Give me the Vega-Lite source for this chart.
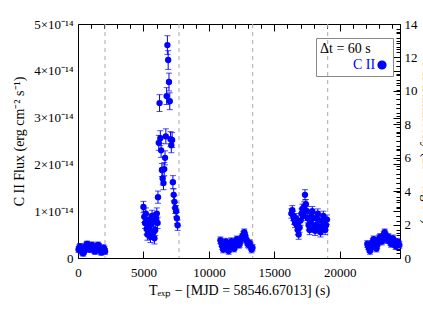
{
  "$schema": "https://vega.github.io/schema/vega-lite/v6.json",
  "width": 322,
  "height": 234,
  "autosize": {"type": "none"},
  "padding": {"left": 78, "top": 24, "right": 23, "bottom": 54},
  "config": {
    "view": {"stroke": null},
    "font": "Liberation Serif",
    "axis": {"labelFont": "Liberation Serif", "titleFont": "Liberation Serif", "labelColor": "black", "titleColor": "black", "domainColor": "black", "tickColor": "black", "grid": false, "labelFontSize": 13, "titleFontSize": 14, "titleFontWeight": "normal", "labelFlush": false, "labelOverlap": false}
  },
  "data": {"values": [
    {"t":40,"f":0.18,"e":0.06},{"t":100,"f":0.22,"e":0.06},{"t":160,"f":0.25,"e":0.06},{"t":220,"f":0.2,"e":0.06},{"t":280,"f":0.15,"e":0.06},{"t":340,"f":0.12,"e":0.06},{"t":400,"f":0.1,"e":0.06},{"t":460,"f":0.14,"e":0.06},{"t":520,"f":0.2,"e":0.06},{"t":580,"f":0.24,"e":0.06},{"t":640,"f":0.28,"e":0.06},{"t":700,"f":0.3,"e":0.06},{"t":760,"f":0.26,"e":0.06},{"t":820,"f":0.22,"e":0.06},{"t":880,"f":0.18,"e":0.06},{"t":940,"f":0.2,"e":0.06},{"t":1000,"f":0.25,"e":0.06},{"t":1060,"f":0.28,"e":0.06},{"t":1120,"f":0.24,"e":0.06},{"t":1180,"f":0.2,"e":0.06},{"t":1240,"f":0.16,"e":0.06},{"t":1300,"f":0.14,"e":0.06},{"t":1360,"f":0.18,"e":0.06},{"t":1420,"f":0.22,"e":0.06},{"t":1480,"f":0.26,"e":0.06},{"t":1540,"f":0.28,"e":0.06},{"t":1600,"f":0.25,"e":0.06},{"t":1660,"f":0.2,"e":0.06},{"t":1720,"f":0.15,"e":0.06},{"t":1780,"f":0.12,"e":0.06},{"t":1840,"f":0.16,"e":0.06},{"t":1900,"f":0.2,"e":0.06},{"t":1960,"f":0.22,"e":0.06},{"t":2020,"f":0.18,"e":0.06},{"t":2070,"f":0.14,"e":0.06},
    {"t":5000,"f":1.09,"e":0.12},{"t":5060,"f":0.88,"e":0.12},{"t":5120,"f":0.75,"e":0.12},{"t":5180,"f":0.95,"e":0.12},{"t":5240,"f":0.62,"e":0.12},{"t":5300,"f":0.5,"e":0.12},{"t":5360,"f":0.7,"e":0.12},{"t":5420,"f":0.82,"e":0.12},{"t":5480,"f":0.6,"e":0.12},{"t":5540,"f":0.45,"e":0.12},{"t":5600,"f":0.72,"e":0.12},{"t":5660,"f":0.9,"e":0.12},{"t":5720,"f":0.78,"e":0.12},{"t":5780,"f":0.55,"e":0.12},{"t":5840,"f":0.42,"e":0.12},{"t":5900,"f":0.6,"e":0.12},{"t":5960,"f":0.85,"e":0.12},{"t":6020,"f":0.95,"e":0.12},{"t":6080,"f":0.75,"e":0.12},
    {"t":6110,"f":1.3,"e":0.13},{"t":6170,"f":2.46,"e":0.16},{"t":6230,"f":3.31,"e":0.18},{"t":6290,"f":2.56,"e":0.16},{"t":6350,"f":2.3,"e":0.15},{"t":6410,"f":1.88,"e":0.14},{"t":6470,"f":1.7,"e":0.14},{"t":6530,"f":1.6,"e":0.14},{"t":6590,"f":1.9,"e":0.14},{"t":6650,"f":2.14,"e":0.15},{"t":6710,"f":2.6,"e":0.16},{"t":6770,"f":3.46,"e":0.18},{"t":6830,"f":4.55,"e":0.2},{"t":6890,"f":4.23,"e":0.2},{"t":6950,"f":3.76,"e":0.19},{"t":7010,"f":3.35,"e":0.18},{"t":7070,"f":2.54,"e":0.16},{"t":7130,"f":2.41,"e":0.16},{"t":7190,"f":2.52,"e":0.16},{"t":7250,"f":1.62,"e":0.14},{"t":7310,"f":1.35,"e":0.13},{"t":7370,"f":1.2,"e":0.13},{"t":7430,"f":1.07,"e":0.12},{"t":7490,"f":1.0,"e":0.12},{"t":7550,"f":0.85,"e":0.12},{"t":7610,"f":0.7,"e":0.11},
    {"t":10880,"f":0.38,"e":0.07},{"t":10950,"f":0.32,"e":0.07},{"t":11020,"f":0.25,"e":0.07},{"t":11090,"f":0.18,"e":0.07},{"t":11160,"f":0.22,"e":0.07},{"t":11230,"f":0.3,"e":0.07},{"t":11300,"f":0.35,"e":0.07},{"t":11370,"f":0.28,"e":0.07},{"t":11440,"f":0.2,"e":0.07},{"t":11510,"f":0.15,"e":0.07},{"t":11580,"f":0.22,"e":0.07},{"t":11650,"f":0.3,"e":0.07},{"t":11720,"f":0.36,"e":0.07},{"t":11790,"f":0.33,"e":0.07},{"t":11860,"f":0.25,"e":0.07},{"t":11930,"f":0.2,"e":0.07},{"t":12000,"f":0.26,"e":0.07},{"t":12070,"f":0.34,"e":0.07},{"t":12140,"f":0.4,"e":0.07},{"t":12210,"f":0.35,"e":0.07},{"t":12280,"f":0.28,"e":0.07},{"t":12350,"f":0.3,"e":0.07},{"t":12420,"f":0.38,"e":0.07},{"t":12490,"f":0.42,"e":0.07},{"t":12560,"f":0.45,"e":0.07},{"t":12630,"f":0.5,"e":0.07},{"t":12700,"f":0.55,"e":0.07},{"t":12770,"f":0.48,"e":0.07},{"t":12840,"f":0.4,"e":0.07},{"t":12910,"f":0.35,"e":0.07},{"t":12980,"f":0.3,"e":0.07},{"t":13050,"f":0.28,"e":0.07},{"t":13120,"f":0.32,"e":0.07},{"t":13190,"f":0.25,"e":0.07},{"t":13260,"f":0.18,"e":0.07},{"t":13330,"f":0.22,"e":0.07},
    {"t":16300,"f":0.95,"e":0.1},{"t":16370,"f":1.02,"e":0.1},{"t":16440,"f":0.9,"e":0.1},{"t":16510,"f":0.82,"e":0.1},{"t":16580,"f":0.75,"e":0.1},{"t":16650,"f":0.85,"e":0.1},{"t":16720,"f":0.7,"e":0.1},{"t":16790,"f":0.6,"e":0.1},{"t":16860,"f":0.5,"e":0.1},{"t":16930,"f":0.65,"e":0.1},{"t":17000,"f":0.8,"e":0.1},{"t":17070,"f":0.95,"e":0.1},{"t":17140,"f":1.05,"e":0.1},{"t":17210,"f":0.9,"e":0.1},{"t":17280,"f":1.1,"e":0.1},{"t":17340,"f":1.35,"e":0.11},{"t":17410,"f":1.15,"e":0.1},{"t":17480,"f":1.0,"e":0.1},{"t":17550,"f":0.85,"e":0.1},{"t":17620,"f":0.7,"e":0.1},{"t":17690,"f":0.6,"e":0.1},{"t":17760,"f":0.75,"e":0.1},{"t":17830,"f":0.9,"e":0.1},{"t":17900,"f":1.0,"e":0.1},{"t":17970,"f":0.85,"e":0.1},{"t":18040,"f":0.65,"e":0.1},{"t":18110,"f":0.58,"e":0.1},{"t":18180,"f":0.7,"e":0.1},{"t":18250,"f":0.85,"e":0.1},{"t":18320,"f":0.95,"e":0.1},{"t":18390,"f":0.8,"e":0.1},{"t":18460,"f":0.62,"e":0.1},{"t":18530,"f":0.55,"e":0.1},{"t":18600,"f":0.68,"e":0.1},{"t":18670,"f":0.8,"e":0.1},{"t":18740,"f":0.9,"e":0.1},{"t":18810,"f":0.75,"e":0.1},{"t":18880,"f":0.6,"e":0.1},{"t":18950,"f":0.7,"e":0.1},{"t":19020,"f":0.82,"e":0.1},
    {"t":22100,"f":0.3,"e":0.07},{"t":22170,"f":0.25,"e":0.07},{"t":22240,"f":0.2,"e":0.07},{"t":22310,"f":0.15,"e":0.07},{"t":22380,"f":0.22,"e":0.07},{"t":22450,"f":0.3,"e":0.07},{"t":22520,"f":0.35,"e":0.07},{"t":22590,"f":0.4,"e":0.07},{"t":22660,"f":0.32,"e":0.07},{"t":22730,"f":0.25,"e":0.07},{"t":22800,"f":0.2,"e":0.07},{"t":22870,"f":0.28,"e":0.07},{"t":22940,"f":0.35,"e":0.07},{"t":23010,"f":0.42,"e":0.07},{"t":23080,"f":0.45,"e":0.07},{"t":23150,"f":0.4,"e":0.07},{"t":23220,"f":0.35,"e":0.07},{"t":23290,"f":0.42,"e":0.07},{"t":23360,"f":0.5,"e":0.07},{"t":23430,"f":0.55,"e":0.07},{"t":23500,"f":0.48,"e":0.07},{"t":23570,"f":0.42,"e":0.07},{"t":23640,"f":0.38,"e":0.07},{"t":23710,"f":0.45,"e":0.07},{"t":23780,"f":0.4,"e":0.07},{"t":23850,"f":0.35,"e":0.07},{"t":23920,"f":0.3,"e":0.07},{"t":23990,"f":0.38,"e":0.07},{"t":24060,"f":0.42,"e":0.07},{"t":24130,"f":0.35,"e":0.07},{"t":24200,"f":0.3,"e":0.07},{"t":24270,"f":0.25,"e":0.07},{"t":24340,"f":0.32,"e":0.07},{"t":24410,"f":0.35,"e":0.07},{"t":24480,"f":0.3,"e":0.07},{"t":24550,"f":0.28,"e":0.07}
  ]},
  "layer": [
    {
      "data": {"values": [{"x": 2063}, {"x": 7716}, {"x": 13347}, {"x": 19076}]},
      "mark": {"type": "rule", "color": "#aaaaaa", "strokeDash": [4, 4], "strokeWidth": 1},
      "encoding": {
        "x": {"field": "x", "type": "quantitative", "scale": {"domain": [0, 24600], "nice": false, "zero": false},
              "axis": {"orient": "top", "values": [0, 5000, 10000, 15000, 20000], "tickSize": -7, "labels": false, "domain": true, "title": null}}
      }
    },
    {
      "mark": {"type": "errorbar", "ticks": {"size": 6}, "color": "#0000ff", "thickness": 1},
      "encoding": {
        "x": {"field": "t", "type": "quantitative", "scale": {"domain": [0, 24600], "nice": false, "zero": false}, "axis": null},
        "y": {"field": "f", "type": "quantitative", "scale": {"domain": [0, 5], "nice": false}, "axis": null},
        "yError": {"field": "e"}
      }
    },
    {
      "mark": {"type": "point", "filled": true, "opacity": 1, "size": 40, "shape": "circle"},
      "encoding": {
        "x": {"field": "t", "type": "quantitative", "scale": {"domain": [0, 24600], "nice": false, "zero": false},
              "axis": {"values": [0, 5000, 10000, 15000, 20000], "format": "d", "ticks": false, "labelPadding": 8, "title": "Tₑₓₚ − [MJD = 58546.67013] (s)", "titlePadding": 4, "domain": true}},
        "y": {"field": "f", "type": "quantitative", "scale": {"domain": [0, 5], "nice": false},
              "axis": {"values": [0, 1, 2, 3, 4, 5], "ticks": false, "labelPadding": 5, "labelExpr": "datum.value == 0 ? '0' : datum.value + '×10⁻¹⁴'", "title": "C II Flux (erg cm⁻² s⁻¹)", "titlePadding": 7, "domain": true}},
        "color": {"datum": "C II", "type": "nominal", "scale": {"range": ["#0000ff"]},
                  "legend": {"title": "Δt = 60 s", "orient": "none", "legendX": 238, "legendY": 14, "strokeColor": "#888888", "padding": 4,
                             "titleFont": "Liberation Serif", "titleFontSize": 14, "titleFontWeight": "normal", "titleColor": "black", "titlePadding": 2,
                             "labelFont": "Liberation Serif", "labelFontSize": 14, "labelColor": "#0000ff",
                             "symbolType": "circle", "symbolSize": 60, "symbolFillColor": "#0000ff", "symbolStrokeColor": "#0000ff",
                             "labelOffset": -36, "symbolOffset": 55}}
      }
    },
    {
      "mark": {"type": "point", "opacity": 0},
      "encoding": {
        "x": {"field": "t", "type": "quantitative", "scale": {"domain": [0, 24600], "nice": false, "zero": false},
              "axis": {"values": [0, 5000, 10000, 15000, 20000], "tickSize": -7, "labels": false, "domain": false, "title": null}},
        "y": {"field": "f", "type": "quantitative", "scale": {"domain": [0, 5], "nice": false},
              "axis": {"values": [0, 1, 2, 3, 4, 5], "tickSize": -7, "labels": false, "domain": false, "title": null}}
      }
    },
    {
      "mark": {"type": "point", "opacity": 0},
      "encoding": {
        "x": {"field": "t", "type": "quantitative", "scale": {"domain": [0, 24600], "nice": false, "zero": false},
              "axis": {"values": [1000, 2000, 3000, 4000, 6000, 7000, 8000, 9000, 11000, 12000, 13000, 14000, 16000, 17000, 18000, 19000, 21000, 22000, 23000, 24000], "tickSize": -4, "labels": false, "domain": false, "title": null}},
        "y": {"field": "f", "type": "quantitative", "scale": {"domain": [0, 5], "nice": false},
              "axis": {"values": [0.1,0.2,0.3,0.4,0.5,0.6,0.7,0.8,0.9,1.1,1.2,1.3,1.4,1.5,1.6,1.7,1.8,1.9,2.1,2.2,2.3,2.4,2.5,2.6,2.7,2.8,2.9,3.1,3.2,3.3,3.4,3.5,3.6,3.7,3.8,3.9,4.1,4.2,4.3,4.4,4.5,4.6,4.7,4.8,4.9], "tickSize": -4, "labels": false, "domain": false, "title": null}}
      }
    },
    {
      "mark": {"type": "point", "opacity": 0},
      "encoding": {
        "x": {"field": "t", "type": "quantitative", "scale": {"domain": [0, 24600], "nice": false, "zero": false},
              "axis": {"orient": "top", "values": [1000, 2000, 3000, 4000, 6000, 7000, 8000, 9000, 11000, 12000, 13000, 14000, 16000, 17000, 18000, 19000, 21000, 22000, 23000, 24000], "tickSize": -4, "labels": false, "domain": false, "title": null}},
        "y": {"datum": 0, "type": "quantitative", "scale": {"domain": [0, 14], "nice": false},
              "axis": {"orient": "right", "values": [0, 2, 4, 6, 8, 10, 12, 14], "ticks": false, "labelPadding": 4, "domain": true, "title": "C II Luminosity (10²⁶ erg s⁻¹)", "titlePadding": 2, "titleAngle": 90}}
      }
    },
    {
      "mark": {"type": "point", "opacity": 0},
      "encoding": {
        "y": {"datum": 0, "type": "quantitative", "scale": {"domain": [0, 14], "nice": false},
              "axis": {"orient": "right", "values": [0, 2, 4, 6, 8, 10, 12, 14], "tickSize": -7, "labels": false, "domain": false, "title": null}}
      }
    },
    {
      "mark": {"type": "point", "opacity": 0},
      "encoding": {
        "y": {"datum": 0, "type": "quantitative", "scale": {"domain": [0, 14], "nice": false},
              "axis": {"orient": "right", "values": [0.5,1,1.5,2.5,3,3.5,4.5,5,5.5,6.5,7,7.5,8.5,9,9.5,10.5,11,11.5,12.5,13,13.5], "tickSize": -4, "labels": false, "domain": false, "title": null}}
      }
    }
  ],
  "resolve": {"scale": {"y": "independent"}, "axis": {"x": "independent", "y": "independent"}}
}
